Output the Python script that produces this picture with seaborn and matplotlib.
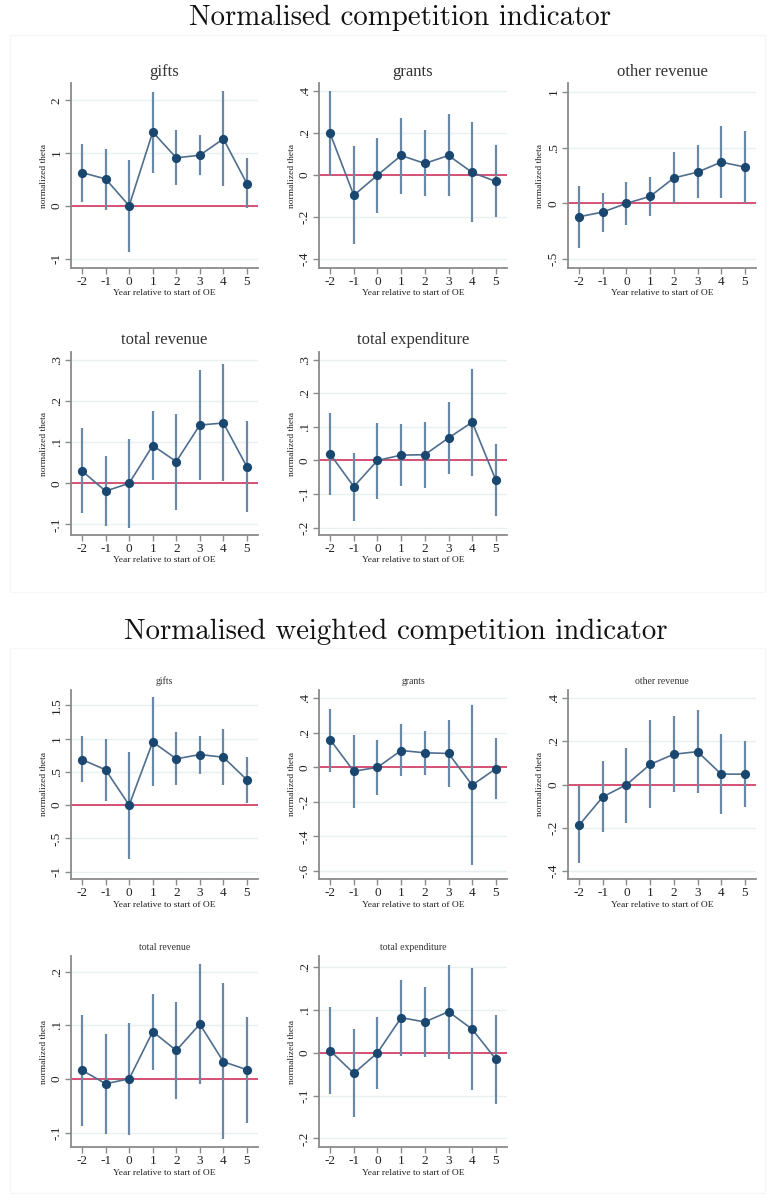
import matplotlib
matplotlib.use("Agg")
import matplotlib.pyplot as plt
from matplotlib.patches import Rectangle
import seaborn as sns
import pandas as pd

sns.set_theme(style="white")
plt.rcParams['font.family'] = ['Liberation Serif', 'DejaVu Serif']

years = [-2, -1, 0, 1, 2, 3, 4, 5]

# ---------- Normalised competition indicator ----------
gifts_est = [0.63, 0.51, 0.0, 1.40, 0.91, 0.96, 1.27, 0.42]
gifts_lo = [0.08, -0.08, -0.88, 0.63, 0.39, 0.59, 0.37, -0.05]
gifts_hi = [1.18, 1.08, 0.87, 2.16, 1.43, 1.34, 2.18, 0.90]

grants_est = [0.199, -0.096, 0.0, 0.094, 0.056, 0.094, 0.013, -0.030]
grants_lo = [-0.005, -0.327, -0.179, -0.088, -0.100, -0.100, -0.225, -0.200]
grants_hi = [0.400, 0.137, 0.178, 0.271, 0.217, 0.290, 0.255, 0.143]

other_est = [-0.120, -0.078, 0.0, 0.063, 0.228, 0.280, 0.370, 0.326]
other_lo = [-0.400, -0.254, -0.190, -0.110, 0.000, 0.048, 0.048, 0.000]
other_hi = [0.160, 0.093, 0.190, 0.240, 0.458, 0.520, 0.695, 0.650]

totrev_est = [0.030, -0.019, 0.0, 0.092, 0.053, 0.142, 0.147, 0.040]
totrev_lo = [-0.073, -0.103, -0.108, 0.008, -0.065, 0.009, 0.005, -0.071]
totrev_hi = [0.134, 0.066, 0.109, 0.176, 0.170, 0.275, 0.290, 0.151]

totexp_est = [0.019, -0.078, 0.0, 0.016, 0.017, 0.067, 0.114, -0.059]
totexp_lo = [-0.102, -0.180, -0.114, -0.077, -0.083, -0.039, -0.046, -0.165]
totexp_hi = [0.140, 0.023, 0.112, 0.108, 0.116, 0.173, 0.271, 0.050]

# ---------- Normalised weighted competition indicator ----------
wgifts_est = [0.685, 0.53, 0.0, 0.95, 0.695, 0.76, 0.72, 0.38]
wgifts_lo = [0.345, 0.065, -0.81, 0.28, 0.31, 0.475, 0.305, 0.035]
wgifts_hi = [1.035, 0.995, 0.805, 1.63, 1.095, 1.045, 1.14, 0.725]

wgrants_est = [0.160, -0.023, 0.0, 0.097, 0.084, 0.080, -0.103, -0.008]
wgrants_lo = [-0.025, -0.234, -0.162, -0.053, -0.046, -0.112, -0.565, -0.183]
wgrants_hi = [0.340, 0.188, 0.156, 0.249, 0.211, 0.272, 0.361, 0.169]

wother_est = [-0.187, -0.056, 0.0, 0.094, 0.141, 0.153, 0.049, 0.049]
wother_lo = [-0.363, -0.217, -0.175, -0.109, -0.033, -0.038, -0.137, -0.103]
wother_hi = [-0.008, 0.108, 0.170, 0.298, 0.316, 0.345, 0.234, 0.200]

wtotrev_est = [0.016, -0.009, 0.0, 0.088, 0.053, 0.102, 0.032, 0.017]
wtotrev_lo = [-0.088, -0.102, -0.104, 0.017, -0.038, -0.009, -0.113, -0.082]
wtotrev_hi = [0.119, 0.083, 0.104, 0.159, 0.143, 0.214, 0.178, 0.115]

wtotexp_est = [0.005, -0.048, 0.0, 0.082, 0.072, 0.096, 0.055, -0.015]
wtotexp_lo = [-0.096, -0.150, -0.084, -0.008, -0.010, -0.014, -0.088, -0.119]
wtotexp_hi = [0.108, 0.056, 0.083, 0.171, 0.154, 0.205, 0.197, 0.088]

# y ticks / labels per panel
t_gifts = [-1, 0, 1, 2];               l_gifts = ['-1', '0', '1', '2']
t_grants = [-.4, -.2, 0, .2, .4];      l_grants = ['-.4', '-.2', '0', '.2', '.4']
t_other = [-.5, 0, .5, 1];             l_other = ['-.5', '0', '.5', '1']
t_totrev = [-.1, 0, .1, .2, .3];       l_totrev = ['-.1', '0', '.1', '.2', '.3']
t_totexp = [-.2, -.1, 0, .1, .2, .3];  l_totexp = ['-.2', '-.1', '0', '.1', '.2', '.3']
t_wgifts = [-1, -.5, 0, .5, 1, 1.5];   l_wgifts = ['-1', '-.5', '0', '.5', '1', '1.5']
t_wgrants = [-.6, -.4, -.2, 0, .2, .4]; l_wgrants = ['-.6', '-.4', '-.2', '0', '.2', '.4']
t_wother = [-.4, -.2, 0, .2, .4];      l_wother = ['-.4', '-.2', '0', '.2', '.4']
t_wtotrev = [-.1, 0, .1, .2];          l_wtotrev = ['-.1', '0', '.1', '.2']
t_wtotexp = [-.2, -.1, 0, .1, .2];     l_wtotexp = ['-.2', '-.1', '0', '.1', '.2']

W, H = 769, 1201
fig = plt.figure(figsize=(W / 100, H / 100), dpi=100)
fig.patch.set_facecolor('white')

NAVY = '#1a476f'
CI = '#6b88a6'
LINE = '#4f6e8e'
RED = '#d4456a'
SPINE = '#8a8a8a'

def add_ax(x0, x1, y0, y1):
    return fig.add_axes([x0 / W, 1 - y1 / H, (x1 - x0) / W, (y1 - y0) / H])

def panel(ax, title, est, lo, hi, ticks, labels, ylim, title_y, title_size, x0, x1):
    df = pd.DataFrame({'year': years, 'est': est, 'lo': lo, 'hi': hi})
    ax.set_facecolor('white')
    for t in ticks:
        ax.axhline(t, color='#e8f0f2', lw=1.0, zorder=0)
    ax.axhline(0, color=RED, lw=1.3, zorder=1)
    ax.vlines(df['year'], df['lo'], df['hi'], color=CI, lw=1.6, zorder=2)
    sns.lineplot(data=df, x='year', y='est', ax=ax, color=LINE, lw=1.2, zorder=3)
    sns.scatterplot(data=df, x='year', y='est', ax=ax, color=NAVY, s=44,
                    edgecolor=NAVY, linewidth=0, zorder=4)
    ax.set_xlim(-2.47, 5.47)
    ax.set_ylim(*ylim)
    ax.set_xticks(years)
    ax.set_xticklabels([str(y) for y in years], fontsize=9.5)
    ax.set_yticks(ticks)
    ax.set_yticklabels(labels, fontsize=9.5, rotation=90, va='center')
    for s in ['top', 'right']:
        ax.spines[s].set_visible(False)
    for s in ['left', 'bottom']:
        ax.spines[s].set_color(SPINE)
        ax.spines[s].set_linewidth(1.3)
    ax.tick_params(axis='both', which='both', direction='out', length=4,
                   width=1.0, color=SPINE, pad=2, labelcolor='#222222')
    ax.tick_params(axis='x', bottom=True)
    ax.tick_params(axis='y', left=True)
    ax.set_xlabel('Year relative to start of OE', fontsize=6.8, color='#222222')
    ax.xaxis.set_label_coords(0.5, -0.115)
    ax.set_ylabel('normalized theta', fontsize=6.8, color='#222222')
    ax.yaxis.set_label_coords(-0.125, 0.5)
    fig.text((x0 + x1) / 2 / W, 1 - title_y / H, title, ha='center', va='center',
             fontsize=title_size, color='#333333')

cols = [(71, 258), (319, 507), (568, 756)]

# outer faint frames
fig.patches.append(Rectangle((10 / W, 1 - 592 / H), 755 / W, 557 / H, transform=fig.transFigure,
                             fill=False, edgecolor='#f6f6f6', lw=1.0))
fig.patches.append(Rectangle((10 / W, 1 - 1193 / H), 755 / W, 545 / H, transform=fig.transFigure,
                             fill=False, edgecolor='#f6f6f6', lw=1.0))

fig.text(400 / W, 1 - 18 / H, 'Normalised competition indicator', ha='center', va='center',
         fontsize=20.8, family='cmr10', color='#111111')
fig.text(396 / W, 1 - 632 / H, 'Normalised weighted competition indicator', ha='center',
         va='center', fontsize=20.8, family='cmr10', color='#111111')

# top section
r1 = (83, 268); r2 = (352, 535)
specs_top = [
    (cols[0], r1, 'gifts', gifts_est, gifts_lo, gifts_hi, t_gifts, l_gifts, (-1.18, 2.33), 72),
    (cols[1], r1, 'grants', grants_est, grants_lo, grants_hi, t_grants, l_grants, (-0.443, 0.44), 72),
    (cols[2], r1, 'other revenue', other_est, other_lo, other_hi, t_other, l_other, (-0.58, 1.08), 72),
    (cols[0], r2, 'total revenue', totrev_est, totrev_lo, totrev_hi, t_totrev, l_totrev, (-0.126, 0.32), 340),
    (cols[1], r2, 'total expenditure', totexp_est, totexp_lo, totexp_hi, t_totexp, l_totexp, (-0.222, 0.323), 340),
]
for (x0, x1), (y0, y1), title, e, lo, hi, t, l, yl, ty in specs_top:
    ax = add_ax(x0, x1, y0, y1)
    panel(ax, title, e, lo, hi, t, l, yl, ty, 12, x0, x1)

# bottom section
b1 = (690, 879); b2 = (956, 1147)
specs_bot = [
    (cols[0], b1, 'gifts', wgifts_est, wgifts_lo, wgifts_hi, t_wgifts, l_wgifts, (-1.11, 1.73), 681),
    (cols[1], b1, 'grants', wgrants_est, wgrants_lo, wgrants_hi, t_wgrants, l_wgrants, (-0.646, 0.447), 681),
    (cols[2], b1, 'other revenue', wother_est, wother_lo, wother_hi, t_wother, l_wother, (-0.436, 0.438), 681),
    (cols[0], b2, 'total revenue', wtotrev_est, wtotrev_lo, wtotrev_hi, t_wtotrev, l_wtotrev, (-0.127, 0.229), 948),
    (cols[1], b2, 'total expenditure', wtotexp_est, wtotexp_lo, wtotexp_hi, t_wtotexp, l_wtotexp, (-0.22, 0.226), 948),
]
for (x0, x1), (y0, y1), title, e, lo, hi, t, l, yl, ty in specs_bot:
    ax = add_ax(x0, x1, y0, y1)
    panel(ax, title, e, lo, hi, t, l, yl, ty, 7, x0, x1)

fig.savefig('out.png', dpi=100, facecolor='white')
